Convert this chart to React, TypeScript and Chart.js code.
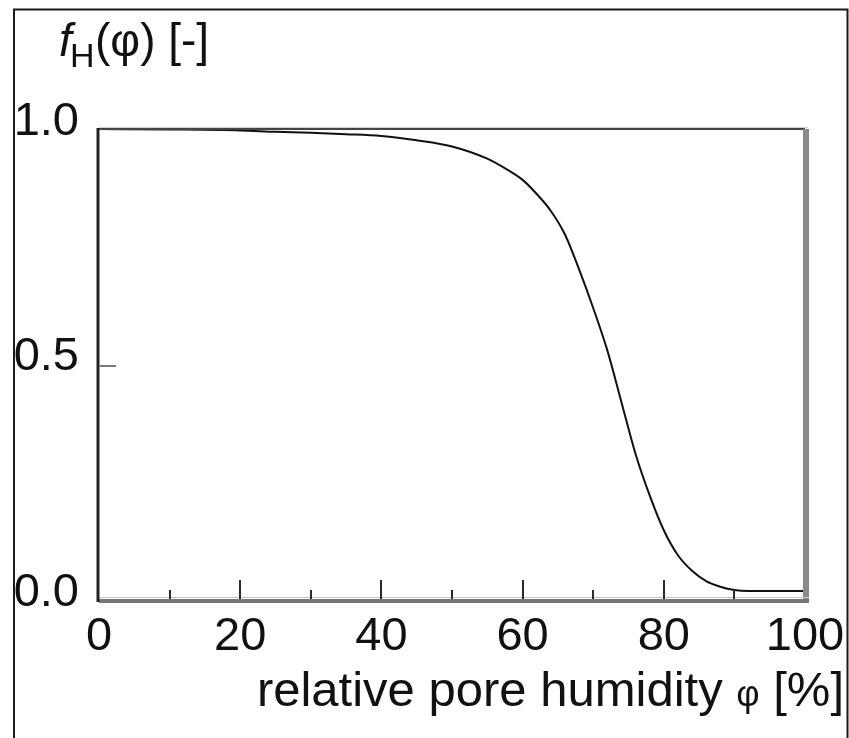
import React, { useEffect, useRef } from "react";
import { Chart, registerables } from "chart.js";

Chart.register(...registerables);

// Data
const humidity = [0, 10, 20, 25, 30, 35, 40, 45, 50, 55, 58, 60, 62, 64, 66, 68, 70, 72, 74, 76, 78, 80, 82, 84, 86, 88, 90, 92, 100];
const fH = [1.0, 0.999, 0.997, 0.994, 0.992, 0.989, 0.985, 0.976, 0.963, 0.937, 0.912, 0.892, 0.862, 0.826, 0.776, 0.702, 0.62, 0.53, 0.42, 0.31, 0.222, 0.148, 0.095, 0.062, 0.04, 0.028, 0.021, 0.019, 0.019];

const xMajorTicks = [20, 40, 60, 80];
const xMinorTicks = [10, 30, 50, 70, 90];
const yInnerTicks = [0.5];

const xTitleMain = "relative pore humidity ";
const xTitlePhi = "φ";
const xTitleUnit = " [%]";

const FONT = "'Liberation Sans', Arial, Helvetica, sans-serif";

const decorPlugin = {
  id: "decor",
  beforeDraw(chart: any) {
    const ctx = chart.ctx;
    ctx.save();
    ctx.strokeStyle = "#1a1a1a";
    ctx.lineWidth = 2;
    ctx.beginPath();
    ctx.moveTo(14, 738);
    ctx.lineTo(14, 9.5);
    ctx.lineTo(847.5, 9.5);
    ctx.lineTo(847.5, 738);
    ctx.stroke();
    ctx.restore();
  },
  afterDatasetsDraw(chart: any) {
    const ctx = chart.ctx;
    const { left, right, top, bottom } = chart.chartArea;
    const xs = chart.scales.x;
    const ys = chart.scales.y;
    ctx.save();
    // top border
    ctx.strokeStyle = "#d0d0d0";
    ctx.lineWidth = 1;
    ctx.beginPath();
    ctx.moveTo(left, top - 1.5);
    ctx.lineTo(right + 3, top - 1.5);
    ctx.stroke();
    ctx.strokeStyle = "#454545";
    ctx.lineWidth = 2;
    ctx.beginPath();
    ctx.moveTo(left - 2, top);
    ctx.lineTo(right, top);
    ctx.stroke();
    // right border (gray, thick)
    ctx.strokeStyle = "#8a8a8a";
    ctx.lineWidth = 6;
    ctx.beginPath();
    ctx.moveTo(right + 1, top);
    ctx.lineTo(right + 1, bottom + 2);
    ctx.stroke();
    // bottom axis (gray)
    ctx.strokeStyle = "#c8c8c8";
    ctx.lineWidth = 1;
    ctx.beginPath();
    ctx.moveTo(left, bottom - 2.5);
    ctx.lineTo(right + 4, bottom - 2.5);
    ctx.stroke();
    ctx.strokeStyle = "#777777";
    ctx.lineWidth = 4;
    ctx.beginPath();
    ctx.moveTo(left, bottom + 1);
    ctx.lineTo(right + 4, bottom + 1);
    ctx.stroke();
    // left axis (dark)
    ctx.strokeStyle = "#222222";
    ctx.lineWidth = 3;
    ctx.beginPath();
    ctx.moveTo(left - 1, top - 1);
    ctx.lineTo(left - 1, bottom + 2);
    ctx.stroke();
    // x ticks inward
    ctx.strokeStyle = "#2a2a2a";
    ctx.lineWidth = 2;
    xMajorTicks.forEach((v) => {
      const px = Math.round(xs.getPixelForValue(v));
      ctx.beginPath();
      ctx.moveTo(px, bottom - 1);
      ctx.lineTo(px, bottom - 20);
      ctx.stroke();
    });
    xMinorTicks.forEach((v) => {
      const px = Math.round(xs.getPixelForValue(v));
      ctx.beginPath();
      ctx.moveTo(px, bottom - 1);
      ctx.lineTo(px, bottom - 10);
      ctx.stroke();
    });
    // y ticks inward
    ctx.strokeStyle = "#7a7a7a";
    ctx.lineWidth = 2;
    yInnerTicks.forEach((v) => {
      const py = Math.round(ys.getPixelForValue(v)) + 1;
      ctx.beginPath();
      ctx.moveTo(left, py);
      ctx.lineTo(left + 17, py);
      ctx.stroke();
    });

    // y-axis title: f_H(φ) [-]
    ctx.fillStyle = "#111";
    ctx.textBaseline = "alphabetic";
    ctx.textAlign = "left";
    const base = 56;
    ctx.font = `italic 46px ${FONT}`;
    ctx.fillText("f", 59, base);
    ctx.font = `34px ${FONT}`;
    ctx.fillText("H", 70, 67);
    ctx.font = `46px ${FONT}`;
    ctx.fillText("(φ) [-]", 95, base);

    // x-axis title right aligned
    const tBase = 706;
    ctx.font = `49px ${FONT}`;
    const wUnit = ctx.measureText(xTitleUnit).width;
    ctx.font = `36px ${FONT}`;
    const wPhi = ctx.measureText(xTitlePhi).width;
    ctx.font = `49px ${FONT}`;
    const wMain = ctx.measureText(xTitleMain).width;
    const endX = 844;
    const x0 = endX - wUnit - wPhi - wMain;
    ctx.fillText(xTitleMain, x0, tBase);
    ctx.font = `36px ${FONT}`;
    ctx.fillText(xTitlePhi, x0 + wMain, tBase);
    ctx.font = `49px ${FONT}`;
    ctx.fillText(xTitleUnit, x0 + wMain + wPhi, tBase);
    ctx.restore();
  },
};

export default function App() {
  const ref = useRef<HTMLCanvasElement>(null);
  useEffect(() => {
    if (!ref.current) return;
    const data = humidity.map((h, i) => ({ x: h, y: fH[i] }));
    const chart = new Chart(ref.current, {
      type: "line",
      data: {
        datasets: [
          {
            data,
            borderColor: "#111111",
            borderWidth: 2,
            pointRadius: 0,
            cubicInterpolationMode: "monotone",
            fill: false,
          },
        ],
      },
      options: {
        animation: false,
        responsive: false,
        maintainAspectRatio: false,
        events: [],
        layout: { padding: { top: 129, right: 44, bottom: 0, left: 0 } },
        plugins: { legend: { display: false }, tooltip: { enabled: false }, title: { display: false } },
        scales: {
          x: {
            type: "linear",
            min: 0,
            max: 100,
            grid: { display: false, drawTicks: false },
            border: { display: false },
            ticks: {
              stepSize: 20,
              padding: 9,
              color: "#111",
              font: { family: FONT, size: 47 },
              maxRotation: 0,
              autoSkip: false,
            },
            afterFit: (s: any) => {
              s.height = 138;
              s.paddingRight = 0;
              s.paddingLeft = 0;
            },
          },
          y: {
            type: "linear",
            min: 0,
            max: 1,
            grid: { display: false, drawTicks: false },
            border: { display: false },
            ticks: {
              stepSize: 0.5,
              padding: 20,
              labelOffset: -7,
              color: "#111",
              font: { family: FONT, size: 47 },
              callback: (v: any) => Number(v).toFixed(1),
            },
            afterFit: (s: any) => {
              s.width = 99;
              s.paddingTop = 0;
              s.paddingBottom = 0;
            },
          },
        },
      },
      plugins: [decorPlugin],
    });
    return () => chart.destroy();
  }, []);
  return (
    <div style={{ position: "absolute", left: 0, top: 0, width: 849, height: 738, background: "#fff" }}>
      <canvas ref={ref} width={849} height={738} style={{ display: "block" }} />
    </div>
  );
}
